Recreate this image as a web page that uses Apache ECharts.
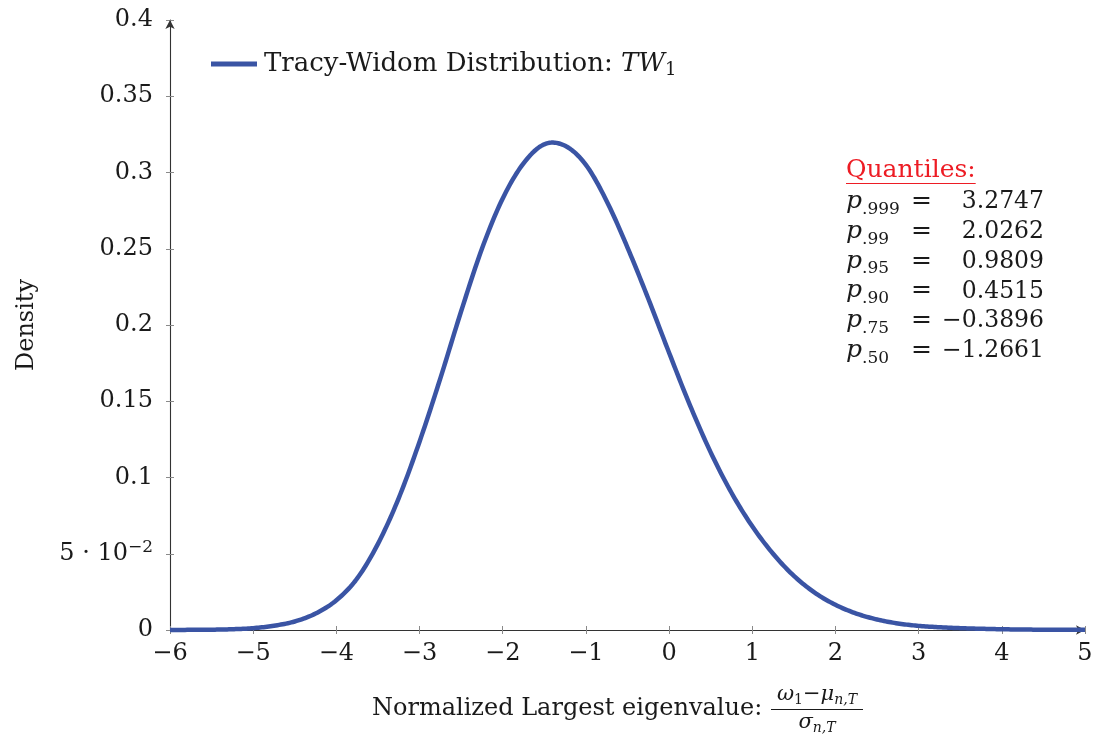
<!DOCTYPE html>
<html><head><meta charset="utf-8">
<script src="https://cdn.jsdelivr.net/npm/echarts@6/dist/echarts.min.js"></script>
<style>html,body{margin:0;padding:0;background:#fff}#c{width:1097px;height:734px}</style>
</head><body><div id="c"></div>
<script>
// ---- data ----
const xValues = [-6, -5.75, -5.5, -5.25, -5, -4.75, -4.5, -4.25, -4, -3.75, -3.5, -3.25, -3, -2.75, -2.5, -2.25, -2, -1.75, -1.5, -1.25, -1, -0.75, -0.5, -0.25, 0, 0.25, 0.5, 0.75, 1, 1.25, 1.5, 1.75, 2, 2.25, 2.5, 2.75, 3, 3.25, 3.5, 3.75, 4, 4.25, 4.5, 4.75, 5];
const density = [0.0000, 0.0001, 0.0002, 0.0005, 0.0012, 0.0028, 0.0056, 0.0108, 0.0195, 0.0338, 0.0565, 0.0865, 0.1235, 0.1650, 0.2090, 0.2500, 0.2830, 0.3060, 0.3185, 0.3175, 0.3050, 0.2812, 0.2508, 0.2172, 0.1818, 0.1475, 0.1165, 0.0900, 0.0680, 0.0500, 0.0355, 0.0245, 0.0165, 0.0108, 0.0069, 0.0043, 0.0027, 0.0018, 0.0012, 0.0008, 0.0005, 0.0003, 0.0002, 0.00015, 0.0001];
const xTickLabels = ['−6', '−5', '−4', '−3', '−2', '−1', '0', '1', '2', '3', '4', '5'];
const yTickLabels = ['0', '5 · 10^−2', '0.1', '0.15', '0.2', '0.25', '0.3', '0.35', '0.4'];
const seriesName = 'Tracy-Widom Distribution: TW1';
const quantileSubs = ['.999', '.99', '.95', '.90', '.75', '.50'];
const quantileValues = ['3.2747', '2.0262', '0.9809', '0.4515', '−0.3896', '−1.2661'];

const FONT = 'DejaVu Serif';
const INK = '#1a1a1a';
const BLUE = '#3a54a4';
const RED = '#ed1c24';

const cv = document.createElement('canvas').getContext('2d');
function fontStr(size, italic) { return (italic ? 'italic ' : '') + size + 'px "' + FONT + '"'; }
function measure(t, size, italic) { cv.font = fontStr(size, italic); return cv.measureText(t).width; }
// place a run of segments on a baseline; returns graphic elements
function run(segs, x, baseline, align, color) {
  const widths = segs.map(s => measure(s.t, s.size, s.italic));
  const total = widths.reduce((a, b) => a + b, 0);
  let cx = align === 'right' ? x - total : align === 'center' ? x - total / 2 : x;
  const els = [];
  segs.forEach((s, i) => {
    els.push({
      type: 'text', silent: true,
      style: {
        text: s.t, x: cx, y: baseline + (s.dy || 0) - 0.36 * s.size,
        font: fontStr(s.size, s.italic), fill: s.color || color || INK,
        textAlign: 'left', textVerticalAlign: 'middle', verticalAlign: 'middle'
      }
    });
    cx += widths[i];
  });
  els.total = total;
  return els;
}

const graphics = [];
// Quantiles block
const qTitle = run([{ t: 'Quantiles:', size: 25 }], 846, 179, 'left', RED);
graphics.push(...qTitle);
graphics.push({ type: 'line', silent: true, shape: { x1: 846, y1: 183.5, x2: 846 + qTitle.total, y2: 183.5 }, style: { stroke: RED, lineWidth: 1.2 } });
quantileSubs.forEach((sub, i) => {
  const b = 210.5 + i * 29.8;
  graphics.push(...run([{ t: 'p', size: 25, italic: true }, { t: sub, size: 17, dy: 5 }], 846, b, 'left'));
  graphics.push(...run([{ t: '=', size: 25 }], 911, b, 'left'));
  graphics.push(...run([{ t: quantileValues[i], size: 23.5 }], 1044, b, 'right'));
});
// x-axis title with fraction
graphics.push(...run([{ t: 'Normalized Largest eigenvalue:', size: 24 }], 372, 717, 'left'));
graphics.push(...run([
  { t: 'ω', size: 21, italic: true }, { t: '1', size: 14, dy: 3 }, { t: '−', size: 21 },
  { t: 'μ', size: 21, italic: true }, { t: 'n,T', size: 14, italic: true, dy: 3 }
], 817, 702, 'center'));
graphics.push({ type: 'line', silent: true, shape: { x1: 771, y1: 709.5, x2: 863, y2: 709.5 }, style: { stroke: INK, lineWidth: 1 } });
graphics.push(...run([{ t: 'σ', size: 21, italic: true }, { t: 'n,T', size: 14, italic: true, dy: 3 }], 817, 730, 'center'));

// smooth curve through the data points (Catmull-Rom), positions from the axes via api.coord
function renderCurve(params, api) {
  if (params.dataIndex !== 0) return null;
  const p = xValues.map((x, i) => api.coord([x, density[i]]));
  const out = [p[0]];
  const N = 12;
  for (let i = 0; i < p.length - 1; i++) {
    const p0 = p[i - 1] || p[i], p1 = p[i], p2 = p[i + 1], p3 = p[i + 2] || p[i + 1];
    for (let k = 1; k <= N; k++) {
      const t = k / N, t2 = t * t, t3 = t2 * t;
      const f = (a, b, c, d) => 0.5 * (2 * b + (-a + c) * t + (2 * a - 5 * b + 4 * c - d) * t2 + (-a + 3 * b - 3 * c + d) * t3);
      out.push([f(p0[0], p1[0], p2[0], p3[0]), f(p0[1], p1[1], p2[1], p3[1])]);
    }
  }
  return {
    type: 'polyline', silent: true,
    shape: { points: out },
    style: { fill: null, stroke: BLUE, lineWidth: 4.5, lineJoin: 'round', lineCap: 'butt' }
  };
}

const chart = echarts.init(document.getElementById('c'), null, { renderer: 'canvas' });
const tickStyle = { show: true, length: 4, lineStyle: { color: '#8a8a8a', width: 1 } };
const option = {
  animation: false,
  backgroundColor: '#fff',
  grid: { left: 170, right: 12, top: 20, bottom: 104, containLabel: false, outerBoundsMode: 'none' },
  legend: {
    data: [seriesName], left: 206, top: 46, icon: 'rect', itemWidth: 46, itemHeight: 5, itemGap: 0,
    formatter: () => '{n|Tracy-Widom Distribution: }{i|TW}{s|1}',
    textStyle: {
      color: INK, fontFamily: FONT, fontSize: 26, padding: [0, 0, 0, 2],
      rich: {
        n: { fontFamily: FONT, fontSize: 26, color: INK, lineHeight: 30 },
        i: { fontFamily: FONT, fontSize: 26, fontStyle: 'italic', color: INK, lineHeight: 30 },
        s: { fontFamily: FONT, fontSize: 18, color: INK, lineHeight: 12, verticalAlign: 'bottom' }
      }
    }
  },
  xAxis: [{
    type: 'value', min: -6, max: 5, interval: 1, position: 'bottom',
    axisLine: { show: true, onZero: false, symbol: ['none', 'arrow'], symbolSize: [7, 9], lineStyle: { color: '#333', width: 1.1 } },
    axisTick: tickStyle,
    axisLabel: { margin: 12, fontFamily: FONT, fontSize: 24, color: INK, formatter: (v) => xTickLabels[Math.round(v + 6)] },
    splitLine: { show: false }
  }, {
    type: 'value', min: -6, max: 5, interval: 1, position: 'bottom', offset: 0,
    axisLine: { show: false, onZero: false }, axisLabel: { show: false }, splitLine: { show: false },
    axisTick: Object.assign({}, tickStyle, { inside: true })
  }],
  yAxis: [{
    type: 'value', min: 0, max: 0.4, interval: 0.05, position: 'left',
    name: 'Density', nameLocation: 'middle', nameGap: 131,
    nameTextStyle: { fontFamily: FONT, fontSize: 24, color: INK },
    axisLine: { show: true, onZero: false, symbol: ['none', 'arrow'], symbolSize: [7, 9], lineStyle: { color: '#333', width: 1.1 } },
    axisTick: tickStyle,
    axisLabel: {
      margin: 17, fontFamily: FONT, fontSize: 24, color: INK,
      formatter: (v) => {
        const s = yTickLabels[Math.round(v / 0.05)];
        if (s.indexOf('^') >= 0) { const p = s.split('^'); return '{n|' + p[0] + '}{sup|' + p[1] + '}'; }
        return '{n|' + s + '}';
      },
      rich: {
        n: { fontFamily: FONT, fontSize: 24, color: INK, lineHeight: 30 },
        sup: { fontFamily: FONT, fontSize: 17, color: INK, lineHeight: 12, verticalAlign: 'top' }
      }
    },
    splitLine: { show: false }
  }, {
    type: 'value', min: 0, max: 0.4, interval: 0.05, position: 'left', offset: 0,
    axisLine: { show: false, onZero: false }, axisLabel: { show: false }, splitLine: { show: false },
    axisTick: Object.assign({}, tickStyle, { inside: true })
  }],
  series: [{
    name: seriesName, type: 'custom', xAxisIndex: 0, yAxisIndex: 0, clip: false,
    data: xValues.map((x, i) => [x, density[i]]),
    encode: { x: 0, y: 1 },
    itemStyle: { color: BLUE },
    renderItem: renderCurve
  }],
  graphic: graphics
};
chart.setOption(option);
</script></body></html>
